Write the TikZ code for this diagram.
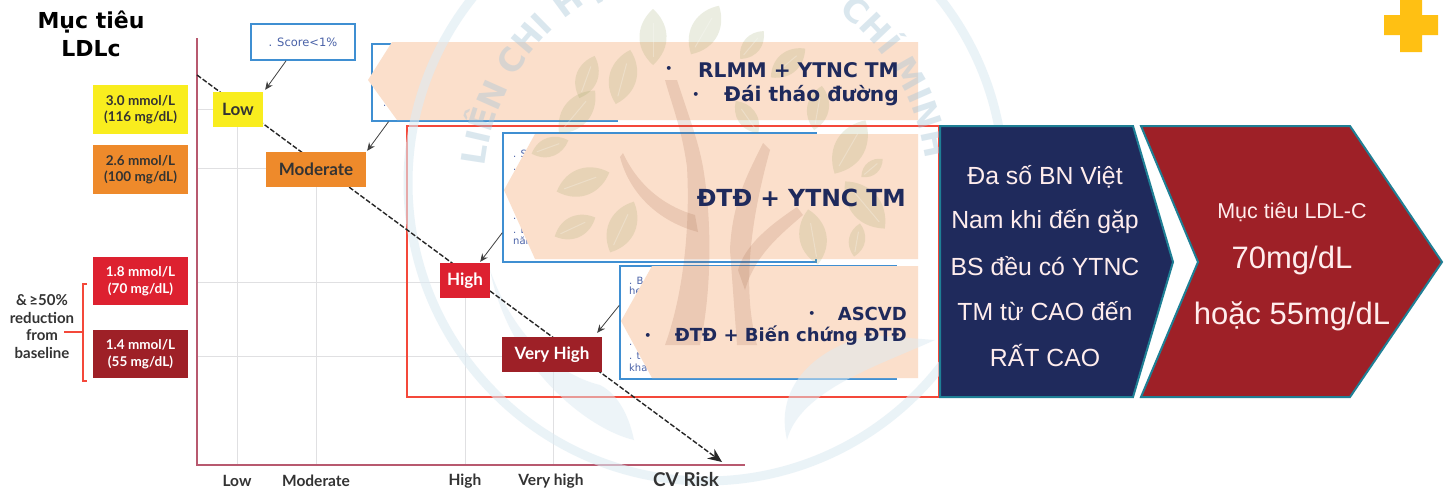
\documentclass[tikz,border=0pt]{standalone}
\usepackage{fontspec}
\setmainfont{Lato}
\newfontfamily\dv{DejaVu Sans}
\newfontfamily\lib{Liberation Sans}
\usetikzlibrary{calc,arrows.meta,decorations.text}
\definecolor{navy}{HTML}{1F2A5C}
\definecolor{peach}{HTML}{FBDFCB}
\definecolor{boxblue}{HTML}{3F8FD2}
\definecolor{frameRed}{HTML}{F4483A}
\definecolor{axisC}{HTML}{B8596F}
\definecolor{gridC}{HTML}{E0E0E2}
\definecolor{teal2}{HTML}{1F7F95}
\definecolor{darkred}{HTML}{9E2027}
\definecolor{wmblue}{HTML}{DDEBF3}
\definecolor{wmtext}{HTML}{A9C6D8}
\definecolor{leafC}{HTML}{8A9A50}
\definecolor{trunkC}{HTML}{9A5A3C}
\definecolor{txtgrey}{HTML}{333333}
\definecolor{plusC}{HTML}{FFC013}
\definecolor{snipC}{HTML}{4A62A8}
\newcommand{\fs}[1]{\fontsize{#1}{#1}\selectfont}
\newcommand{\leafat}[4]{%
 \begin{scope}[shift={(#1,#2)},rotate=#3,scale=#4]
  \fill[leafC,opacity=.17] (0,28) .. controls (-20,10) and (-16,-14) .. (0,-28) .. controls (16,-14) and (20,10) .. (0,28) -- cycle;
  \draw[white,opacity=.25,line width=1pt] (0,20) -- (0,-14);
 \end{scope}}
\tikzset{
 valbox/.style={minimum width=95pt,minimum height=48.5pt,inner sep=0pt,align=center,font=\bfseries\fs{13.5},text=txtgrey},
 riskbox/.style={minimum height=35pt,inner sep=0pt,font=\bfseries\fs{17}},
 infobox/.style={draw=boxblue,line width=1.4pt,fill=white},
 peachshape/.style={fill=peach},
 gridln/.style={gridC,line width=1pt},
 axisln/.style={axisC,line width=1.5pt},
 callout/.style={draw=black!75,line width=.8pt,-{Stealth[length=8pt,width=7pt]}},
 ticklab/.style={font=\bfseries\fs{15.5},text=txtgrey,inner sep=0pt},
 snip/.style={font=\dv\fs{10},text=snipC,anchor=west,inner sep=0pt},
 ptext/.style={font=\dv\bfseries\fs{20.2},text=navy,anchor=east,inner sep=0pt},
 ptextb/.style={font=\dv\bfseries\fs{18},text=navy,anchor=east,inner sep=0pt},
 bul/.style={font=\dv\bfseries\fs{11},text=navy,inner sep=0pt},
 chev/.style={draw=teal2,line width=2pt,line join=miter},
 wtext/.style={font=\lib,text=white!93!red,inner sep=0pt}
}
\begin{document}
\begin{tikzpicture}[x=1pt,y=-1pt]
\useasboundingbox (0,0) rectangle (1448,493);
\fill[white] (0,0) rectangle (1448,493);

% grid
\draw[gridln] (197,109) -- (213,109);
\draw[gridln] (197,168) -- (266,168);
\draw[gridln] (197,282) -- (440,282);
\draw[gridln] (197,356.5) -- (502,356.5);
\draw[gridln] (237,127) -- (237,465);
\draw[gridln] (316,187) -- (316,465);
\draw[gridln] (465,298) -- (465,465);
\draw[gridln] (553,372) -- (553,465);
% axes
\coordinate (ytop) at (197,38);
\coordinate (orig) at (197,465);
\coordinate (xend) at (745,465);
\draw[axisln] (ytop) -- (orig) -- (xend);

% red frame
\node[draw=frameRed,line width=2pt,minimum width=532pt,minimum height=271pt,inner sep=0pt] (frame) at (673,261.5) {};

% info boxes
\node[infobox,minimum width=104pt,minimum height=36pt,inner sep=0pt,font=\dv\fs{11.5},text=snipC] (score) at (303,42) {. Score<1\%};
\node[infobox,minimum width=245pt,minimum height=77pt,inner sep=0pt] (modinfo) at (494.5,82.5) {};
\node[infobox,minimum width=313pt,minimum height=129pt,inner sep=0pt] (highinfo) at (659.5,197.5) {};
\node[infobox,minimum width=276pt,minimum height=113pt,inner sep=0pt] (vhinfo) at (758,322.5) {};
\node[snip] (s0) at (383,106) {.};
\node[snip] (s1) at (513,154) {. S};
\node[snip] (s2) at (513,167) {. (};
\node[snip] (s3) at (513,177) {(};
\node[snip] (s4) at (513,219) {.};
\node[snip] (s5) at (513,230) {. E};
\node[snip] (s6) at (513,241) {năm};
\node[snip] (s7) at (629,281) {. B};
\node[snip] (s8) at (629,292) {hẹ};
\node[snip] (s9) at (629,345) {.};
\node[snip] (s10) at (629,356) {. t};
\node[snip] (s11) at (629,368) {kha};

% peach pentagons
\fill[peachshape] (368,80) -- (392,42) -- (918,42) -- (918,120) -- (397,120) -- cycle;
\fill[peachshape] (504,190) -- (535,134) -- (918,134) -- (918,259) -- (535,259) -- cycle;
\fill[peachshape] (621,321) -- (652,266) -- (918,266) -- (918,378) -- (652,378) -- cycle;

% watermark
\begin{scope}
\clip (0,0) rectangle (1448,493);
\draw[wmblue,line width=9pt,opacity=.6] (706,183) circle (298pt);
\begin{scope}[opacity=.42]
\path[decorate,decoration={text along path,text align=left,text={|\dv\bfseries\fs{33}\color{wmtext}|LIÊN CHI HỘI}}] (706,190) ++(174:222pt) arc[start angle=174,end angle=116,radius=222pt];
\path[decorate,decoration={text along path,text align=right,text={|\dv\bfseries\fs{33}\color{wmtext}|Ồ CHÍ MINH}}] (706,190) ++(70:222pt) arc[start angle=70,end angle=8,radius=222pt];
\end{scope}
\fill[wmblue,opacity=.5] (490,270) .. controls (510,370) and (590,430) .. (634,440) .. controls (630,420) and (620,395) .. (600,385) .. controls (560,375) and (515,340) .. (490,270) -- cycle;
\fill[wmblue,opacity=.5] (935,340) .. controls (880,365) and (800,390) .. (787,440) .. controls (775,390) and (810,350) .. (870,335) -- cycle;
% trunks
\begin{scope}[opacity=.16]
\fill[trunkC] (665,80) -- (677,80) .. controls (690,120) and (698,140) .. (703,167) .. controls (712,220) and (712,290) .. (700,345) -- (665,345) .. controls (685,290) and (690,220) .. (687,167) .. controls (682,130) and (672,105) .. (665,80) -- cycle;
\fill[trunkC] (623,153) .. controls (640,190) and (670,208) .. (695,215) -- (698,232) .. controls (660,222) and (630,195) .. (620,157) -- cycle;
\fill[trunkC] (763,143) .. controls (750,170) and (732,200) .. (730,250) -- (737,345) -- (757,345) .. controls (745,300) and (745,240) .. (770,150) -- cycle;
\fill[trunkC] (797,207) .. controls (770,225) and (745,245) .. (738,270) -- (745,290) .. controls (755,255) and (780,235) .. (803,215) -- cycle;
\end{scope}
\leafat{653}{37}{0}{1}
\leafat{705}{30}{-30}{1}
\leafat{752}{45}{-40}{.65}
\leafat{788}{63}{-50}{.8}
\leafat{587}{77}{-20}{.8}
\leafat{623}{77}{-15}{1}
\leafat{577}{112}{-40}{1}
\leafat{747}{117}{35}{.7}
\leafat{818}{108}{-10}{.8}
\leafat{850}{147}{-30}{1.1}
\leafat{872}{168}{-50}{.5}
\leafat{550}{147}{-70}{.7}
\leafat{583}{182}{-70}{1}
\leafat{575}{227}{-65}{.8}
\leafat{622}{227}{-25}{1}
\leafat{813}{237}{10}{1}
\leafat{865}{205}{40}{1.1}
\leafat{857}{240}{-10}{.6}
\end{scope}

% dashed trend
\coordinate (dstart) at (197,75);
\coordinate (dend) at (722,462);
\draw[black!85,line width=1.4pt,dash pattern=on 5pt off 2pt,-{Stealth[length=14pt,width=12pt]}] (dstart) -- (dend);

% peach texts
\node[ptext] (t1) at (899,70) {RLMM + YTNC TM};
\node[bul] (b1) at (669,69) {•};
\node[ptext] (t2) at (899,96) {Đái tháo đường};
\node[bul] (b2) at (696,95) {•};
\node[ptext,font=\dv\bfseries\fs{23.5}] (t3) at (906,198) {ĐTĐ + YTNC TM};
\node[ptextb] (t4) at (907,314) {ASCVD};
\node[bul] (b4) at (812,314) {•};
\node[ptextb] (t5) at (907,336) {ĐTĐ + Biến chứng ĐTĐ};
\node[bul] (b5) at (648,336) {•};

% value boxes
\node[valbox,fill={rgb,255:red,249;green,237;blue,30}] (v1) at (140.5,109.5) {3.0 mmol/L\\[3pt](116 mg/dL)};
\node[valbox,fill={rgb,255:red,238;green,138;blue,43}] (v2) at (140.5,169.5) {2.6 mmol/L\\[3pt](100 mg/dL)};
\node[valbox,fill={rgb,255:red,221;green,33;blue,48},text=white] (v3) at (140.5,281) {1.8 mmol/L\\[3pt](70 mg/dL)};
\node[valbox,fill=darkred,text=white] (v4) at (140.5,354) {1.4 mmol/L\\[3pt](55 mg/dL)};

% risk boxes
\node[riskbox,fill={rgb,255:red,249;green,237;blue,30},minimum width=50pt,text=txtgrey] (low) at (238,109.5) {Low};
\node[riskbox,fill={rgb,255:red,238;green,138;blue,43},minimum width=100pt,text=txtgrey] (mod) at (316,169.5) {Moderate};
\node[riskbox,fill={rgb,255:red,221;green,33;blue,48},minimum width=50pt,text=white] (high) at (465,280.5) {High};
\node[riskbox,fill=darkred,minimum width=100pt,text=white] (vhigh) at (552,354.5) {Very High};

% callouts
\draw[callout] ($(score.south west)!.34!(score.south east)$) -- ([shift={(2,-2)}]low.north east);
\draw[callout] ($(modinfo.south west)!.07!(modinfo.south east)$) -- ([shift={(1,-1)}]mod.north east);
\draw[callout] ($(highinfo.south west)!.23!(highinfo.north west)$) -- ([shift={(-10,-1)}]high.north east);
\draw[callout] ($(vhinfo.south west)!.65!(vhinfo.north west)$) -- ([shift={(-5,-4)}]vhigh.north east);

% brace
\coordinate (brA) at (87,284);
\coordinate (brB) at (87,381);
\coordinate (brC) at (64,332);
\draw[frameRed,line width=1.8pt] (brA) -- (83,284) -- (83,381) -- (brB);
\draw[frameRed,line width=1.8pt] (brC) -- (83,332);
\node[align=center,inner sep=0pt,font=\bfseries\fs{15},text=txtgrey] (redn) at (42,326.5) {\&\,≥50\%\\[2.6pt]reduction\\[2.6pt]from\\[2.6pt]baseline};

% title
\node[align=center,inner sep=0pt,font=\dv\bfseries\fs{22}] (title) at (91,34) {Mục tiêu\\[6pt]LDLc};

% tick labels
\node[ticklab] (x1) at (237,481) {Low};
\node[ticklab] (x2) at (316,481) {Moderate};
\node[ticklab] (x3) at (465,481) {High};
\node[ticklab] (x4) at (551,481) {Very high};
\node[ticklab,font=\bfseries\fs{19}] (x5) at (686,480) {CV Risk};

% chevrons
\draw[chev,fill=navy] (940,126) -- (1133,126) -- (1173,262) -- (1133,397) -- (940,397) -- cycle;
\draw[chev,fill=darkred] (1141,126) -- (1350,126) -- (1442,262) -- (1350,397) -- (1141,397) -- (1198,262) -- cycle;
\node[wtext,font=\lib\fs{24.8}] (n1) at (1045,177) {Đa số BN Việt};
\node[wtext,font=\lib\fs{24.8}] (n2) at (1045,222) {Nam khi đến gặp};
\node[wtext,font=\lib\fs{24.8}] (n3) at (1045,266) {BS đều có YTNC};
\node[wtext,font=\lib\fs{24.8}] (n4) at (1045,311) {TM từ CAO đến};
\node[wtext,font=\lib\fs{24.8}] (n5) at (1045,356) {RẤT CAO};
\node[wtext,font=\lib\fs{21.5}] (r1) at (1292,212) {Mục tiêu LDL-C};
\node[wtext,font=\lib\fs{31}] (r2) at (1292,260) {70mg/dL};
\node[wtext,font=\lib\fs{31}] (r3) at (1292,316) {hoặc 55mg/dL};

% plus
\fill[plusC] (1400,0) -- (1422,0) -- (1422,15) -- (1438,15) -- (1438,35) -- (1422,35) -- (1422,52) -- (1400,52) -- (1400,35) -- (1384,35) -- (1384,15) -- (1400,15) -- cycle;
\end{tikzpicture}
\end{document}
